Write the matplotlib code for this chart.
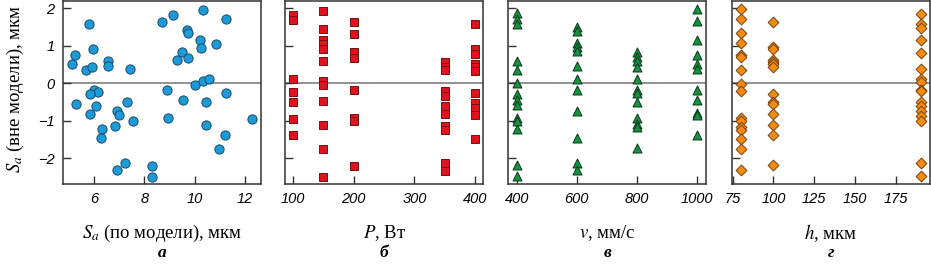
import matplotlib
matplotlib.use("Agg")
import matplotlib.pyplot as plt

plt.rcParams['mathtext.fontset'] = 'stix'
plt.rcParams['font.family'] = ['Liberation Serif', 'DejaVu Serif']

# ---- data ----
sa_model = [5.13, 5.23, 5.29, 5.81, 5.68, 5.91, 5.97, 6.01, 6.15, 5.84,
            6.09, 5.84, 6.33, 6.26, 6.57, 6.57, 7.43, 7.32, 6.93, 6.99,
            7.56, 6.83, 7.24, 6.93, 8.29, 8.31, 8.71, 9.15, 9.68, 9.72,
            9.49, 9.28, 9.73, 8.88, 8.92, 10.33, 10.22, 10.24, 11.25, 10.83,
            10.02, 10.31, 10.56, 9.53, 10.43, 10.43, 11.26, 11.21, 10.95, 12.28]
sa_out_a = [0.51, 0.75, -0.56, 1.59, 0.36, 0.42, 0.90, -0.18, -0.24, -0.28,
            -0.60, -0.81, -1.23, -1.46, 0.58, 0.47, 0.38, -0.51, -0.73, -0.86,
            -1.02, -1.14, -2.12, -2.32, -2.20, -2.50, 1.64, 1.82, 1.43, 1.33,
            0.82, 0.62, 0.68, -0.18, -0.94, 1.95, 1.15, 0.94, 1.72, 1.05,
            -0.04, 0.06, 0.11, -0.46, -0.50, -1.11, -0.25, -1.38, -1.75, -0.96]

power_levels = [100, 150, 200, 350, 400]
sa_out_p = [
    [1.82, 1.69, 0.12, -0.24, -0.51, -0.96, -1.39],
    [1.93, 1.45, 1.16, 1.04, 0.92, 0.60, 0.07, -0.04, -0.48, -1.12, -1.76, -2.50],
    [1.62, 1.32, 0.82, 0.67, -0.18, -0.94, -1.01, -2.21],
    [0.56, 0.42, 0.35, -0.21, -0.34, -0.62, -0.83, -1.15, -1.24, -2.12, -2.34],
    [1.58, 0.91, 0.78, 0.51, 0.42, 0.32, -0.26, -0.52, -0.65, -0.86, -1.48],
]

speed_levels = [400, 600, 800, 1000]
sa_out_v = [
    [1.86, 1.70, 1.58, 0.60, 0.36, 0.0, -0.30, -0.46, -0.59, -0.92, -1.01, -1.23, -2.19, -2.47],
    [1.49, 1.38, 1.06, 0.96, 0.87, 0.47, 0.12, -0.17, -0.73, -1.46, -2.12, -2.32],
    [0.82, 0.69, 0.58, 0.42, 0.10, -0.19, -0.27, -0.50, -0.92, -1.10, -1.17, -1.74],
    [1.97, 1.65, 1.15, 0.75, 0.51, 0.38, -0.18, -0.46, -0.80, -0.86, -1.39],
]

hatch_levels = [80, 100, 190]
sa_out_h = [
    [1.97, 1.70, 1.33, 1.06, 0.76, 0.69, 0.36, -0.02, -0.21, -0.92, -1.01, -1.17, -1.24, -1.48, -1.76, -2.32],
    [1.64, 0.97, 0.91, 0.62, 0.56, 0.50, 0.44, -0.30, -0.49, -0.55, -0.81, -1.12, -1.37, -2.19],
    [1.84, 1.59, 1.47, 1.15, 0.80, 0.38, 0.12, 0.04, -0.18, -0.22, -0.50, -0.62, -0.75, -0.88, -1.01, -2.12, -2.47],
]

xlabels = [r'$S_a$ (по модели), мкм', r'$P$, Вт', r'$v$, мм/с', r'$h$, мкм']
letters = ['а', 'б', 'в', 'г']
xticks = [[6, 8, 10, 12], [100, 200, 300, 400], [400, 600, 800, 1000], [75, 100, 125, 150, 175]]
xlims = [(4.77, 12.63), (88, 413), (372, 1032), (74.5, 195.6)]
yticks = [-2, -1, 0, 1, 2]
ylim = (-2.69, 2.19)

W, H = 931, 266
fig = plt.figure(figsize=(W / 100, H / 100), dpi=100)
lefts = [63, 285.3, 508.3, 731.7]
width = 198
top_px, bottom_px = 1, 184

styles = [
    dict(marker='o', color='#1d9bd7', edge='#164a6e'),
    dict(marker='s', color='#e0121b', edge='#6e1414'),
    dict(marker='^', color='#169140', edge='#0c3a1b'),
    dict(marker='D', color='#f68b12', edge='#7a4108'),
]
sizes = [44, 40, 42, 30]

tickfont = dict(family=['Liberation Sans', 'DejaVu Sans'], style='italic', size=10.5)

axes = []
for i in range(4):
    ax = fig.add_axes([lefts[i] / W, 1 - bottom_px / H, width / W, (bottom_px - top_px) / H])
    axes.append(ax)
    ax.axhline(0, color='#7f7f7f', lw=1.2, zorder=1)
    st = styles[i]
    if i == 0:
        ax.scatter(sa_model, sa_out_a, s=sizes[i], marker=st['marker'], facecolor=st['color'],
                   edgecolor=st['edge'], linewidths=0.7, zorder=3)
    else:
        levels = [power_levels, speed_levels, hatch_levels][i - 1]
        vals = [sa_out_p, sa_out_v, sa_out_h][i - 1]
        for lv, ys in zip(levels, vals):
            ax.scatter([lv] * len(ys), ys, s=sizes[i], marker=st['marker'], facecolor=st['color'],
                       edgecolor=st['edge'], linewidths=0.7, zorder=3)
    ax.set_xlim(*xlims[i])
    ax.set_ylim(*ylim)
    ax.set_xticks(xticks[i])
    ax.set_yticks(yticks)
    ax.tick_params(direction='in', length=6, width=1, color='#333333', pad=6)
    ax.set_xticklabels([str(t) for t in xticks[i]], fontdict=tickfont)
    if i == 0:
        ax.set_yticklabels(['\u22122', '\u22121', '0', '1', '2'], fontdict=tickfont)
    else:
        ax.set_yticklabels([])
    for sp in ax.spines.values():
        sp.set_linewidth(1.1)
        sp.set_color('#333333')
    cx = (lefts[i] + width / 2) / W
    fig.text(cx, 1 - 233 / H, xlabels[i], ha='center', va='center', fontsize=13.5)
    fig.text(cx, 1 - 253 / H, letters[i], ha='center', va='center', fontsize=12.5,
             fontweight='bold', style='italic')

fig.text(15 / W, 1 - 89 / H, r'$S_a$ (вне модели), мкм', rotation=90, ha='center', va='center', fontsize=13.5)

fig.savefig('out.png', dpi=100)
